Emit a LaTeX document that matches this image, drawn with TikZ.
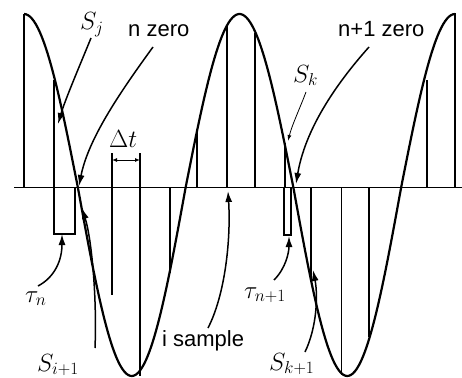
\documentclass[tikz,border=0pt]{standalone}
\usepackage{fontspec}
\setmainfont{Liberation Sans}
\usetikzlibrary{arrows.meta}
\begin{document}
\begin{tikzpicture}[x=1pt,y=-1pt,
  wave/.style={line width=2.2pt},
  sampline/.style={line width=1.6pt},
  thinsamp/.style={line width=1pt},
  axisline/.style={line width=1.9pt},
  myarr/.style={line width=1.5pt,-{Latex[length=11pt,width=7pt]}},
  thinarr/.style={line width=0.8pt,-{Latex[length=6pt,width=4pt]}},
  dimarr/.style={line width=1pt,{Latex[length=5pt,width=4pt]}-{Latex[length=5pt,width=4pt]}},
  txtlab/.style={font=\fontsize{22}{26}\selectfont,inner sep=0pt,anchor=base west},
  mlab/.style={font=\fontsize{25}{30}\selectfont,inner sep=0pt,anchor=base west},
  declare function={amp(\t)=(cos(\t)>0 ? 173.5 : 188.5);}
]
\useasboundingbox (0,0) rectangle (462,377);
% axis
\draw[axisline] (14,187.5) -- (462,187.5);
% sine wave
\draw[wave] plot[domain=24:455,samples=220,smooth,variable=\x]
  (\x,{187.5-amp((\x-24)*1.67053)*cos((\x-24)*1.67053)});
% sample lines
\foreach \sx/\sy in {24/14,54/80,112/295,140/376,170/273,197/133,227/25,255/33,285/143,311/280,369/337,427/80,455/13}
  \draw[sampline] (\sx,187.5) -- (\sx,\sy);
\draw[thinsamp] (341,187.5) -- (341,375);
% delta t extension
\draw[sampline] (112,187.5) -- (112,153);
\draw[sampline] (140,187.5) -- (140,153);
\coordinate (dtL) at (112,160);
\coordinate (dtR) at (140,160);
\draw[dimarr] (dtL) -- (dtR);
% tau boxes
\draw[sampline] (54,187.5) rectangle (75,234);
\draw[sampline] (284,187.5) rectangle (291,235);
% labels
\node[mlab] (Sj) at (80,30) {$S_j$};
\node[mlab] (Sk) at (293,82) {$S_k$};
\node[mlab] (dt) at (109,147) {$\Delta t$};
\node[mlab] (taun) at (25,302) {$\tau_n$};
\node[mlab] (taun1) at (244,298) {$\tau_{n+1}$};
\node[mlab] (Si1) at (37,371) {$S_{i+1}$};
\node[mlab] (Sk1) at (269,370) {$S_{k+1}$};
\node[txtlab] (nz) at (128,37) {n zero};
\node[txtlab] (n1z) at (338,37) {n+1 zero};
\node[txtlab] (isamp) at (162,346) {i sample};
% arrow end points
\coordinate (SjS) at (91,38);   \coordinate (SjT) at (58,124);
\coordinate (nzS) at (153,47);  \coordinate (nzT) at (79,186);
\coordinate (n1zS) at (369,47); \coordinate (n1zT) at (296,184);
\coordinate (SkS) at (306,92);  \coordinate (SkT) at (288,141);
\coordinate (tnS) at (38,286);  \coordinate (tnT) at (62,234);
\coordinate (tn1S) at (274,280);\coordinate (tn1T) at (289,236);
\coordinate (Si1S) at (95,348); \coordinate (Si1T) at (82,208);
\coordinate (isS) at (208,328); \coordinate (isT) at (228,191);
\coordinate (Sk1S) at (305,352);\coordinate (Sk1T) at (313,270);
% arrows
\draw[myarr] (SjS) .. controls (80,65) and (65,100) .. (SjT);
\draw[myarr] (nzS) .. controls (118,95) and (88,140) .. (nzT);
\draw[myarr] (n1zS) .. controls (335,85) and (305,130) .. (n1zT);
\draw[thinarr] (SkS) .. controls (300,108) and (292,125) .. (SkT);
\draw[myarr] (tnS) .. controls (55,277) and (62,260) .. (tnT);
\draw[myarr] (tn1S) .. controls (286,268) and (289,252) .. (tn1T);
\draw[myarr] (Si1S) .. controls (97,300) and (92,240) .. (Si1T);
\draw[myarr] (isS) .. controls (225,295) and (231,240) .. (isT);
\draw[myarr] (Sk1S) .. controls (317,327) and (318,295) .. (Sk1T);
\end{tikzpicture}
\end{document}
